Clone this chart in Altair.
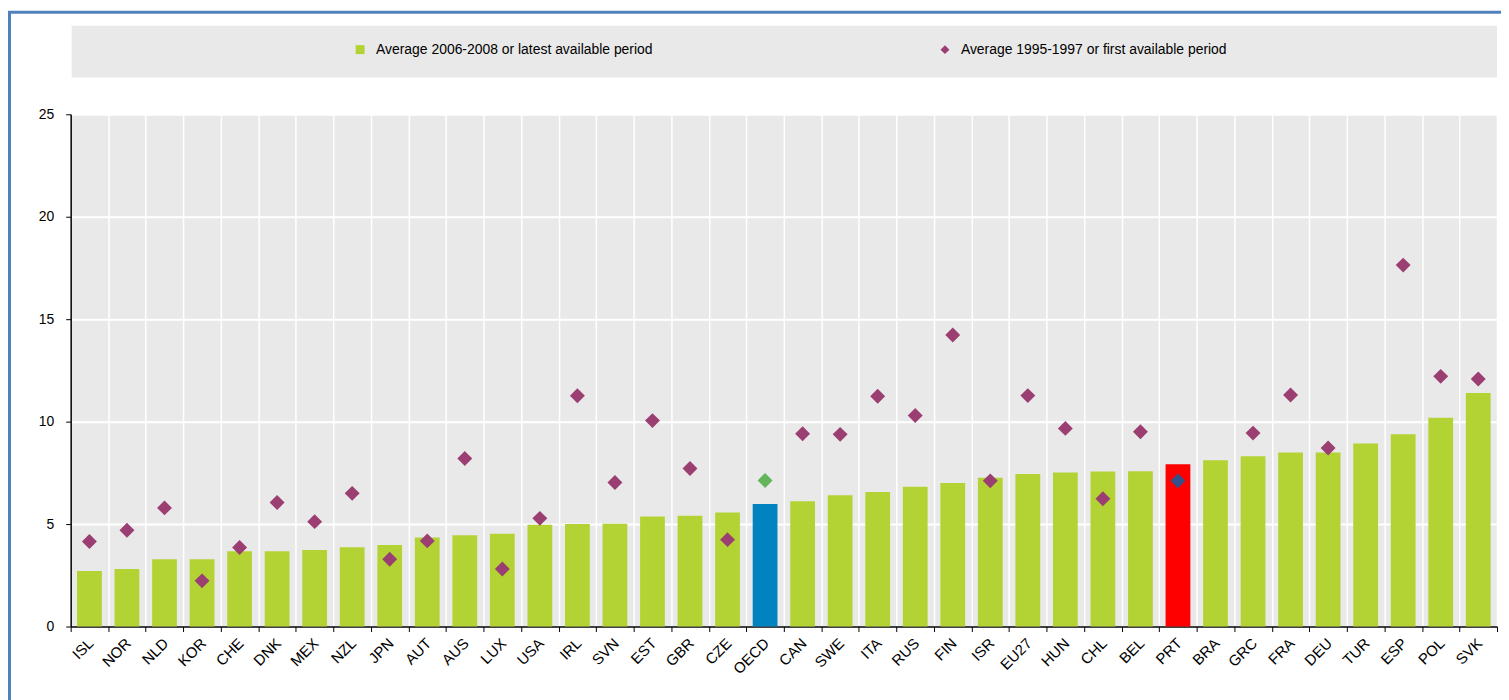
import altair as alt
import pandas as pd

countries = ["ISL", "NOR", "NLD", "KOR", "CHE", "DNK", "MEX", "NZL", "JPN", "AUT",
             "AUS", "LUX", "USA", "IRL", "SVN", "EST", "GBR", "CZE", "OECD", "CAN",
             "SWE", "ITA", "RUS", "FIN", "ISR", "EU27", "HUN", "CHL", "BEL", "PRT",
             "BRA", "GRC", "FRA", "DEU", "TUR", "ESP", "POL", "SVK"]
recent = [2.71, 2.81, 3.28, 3.28, 3.68, 3.68, 3.74, 3.87, 3.98, 4.34,
          4.45, 4.53, 4.97, 5.00, 5.02, 5.37, 5.41, 5.57, 5.98, 6.12,
          6.41, 6.56, 6.82, 7.00, 7.26, 7.44, 7.52, 7.57, 7.58, 7.92,
          8.12, 8.31, 8.49, 8.49, 8.93, 9.38, 10.19, 11.40]
early = [4.15, 4.70, 5.79, 2.23, 3.86, 6.05, 5.12, 6.50, 3.28, 4.18,
         8.20, 2.81, 5.28, 11.26, 7.03, 10.05, 7.71, 4.24, 7.13, 9.41,
         9.38, 11.24, 10.30, 14.23, 7.11, 11.27, 9.67, 6.24, 9.51, 7.11,
         None, 9.44, 11.30, 8.71, None, 17.64, 12.21, 12.08]

L1 = "Average 2006-2008 or latest available period"
L2 = "Average 1995-1997 or first available period"

GREEN = "#b3d334"
BLUE = "#0083bf"
RED = "#ff0000"
PURPLE = "#9b3e72"
DGREEN = "#63b45b"
NAVY = "#35508a"

df = pd.DataFrame({"country": countries, "recent": recent, "early": early})
df["bar_s"] = L1
df["pt_s"] = L2

W, H = 1434, 515

x_enc = alt.X("country:N", sort=countries, title=None,
              scale=alt.Scale(paddingInner=0, paddingOuter=0),
              axis=alt.Axis(labelAngle=-45, tickBand="extent", grid=True,
                            gridColor="white", gridWidth=1.5,
                            domainColor="black", domainWidth=1.5,
                            tickColor="black", tickSize=5, labelPadding=4,
                            labelOffset=-4,
                            labelFontSize=15, labelColor="black"))
y_scale = alt.Scale(domain=[0, 25], nice=False)

color_scale = alt.Scale(domain=[L1, L2], range=[GREEN, PURPLE])
legend = alt.Legend(title=None, orient="none", legendX=284, legendY=-72,
                    direction="horizontal", columnPadding=286, labelOffset=9,
                    labelLimit=500, labelFontSize=14, labelColor="black",
                    symbolSize=80, padding=0, symbolStrokeWidth=0)

bg = alt.Chart(alt.Data(values=[{}])).mark_rect(color="#e9e9e9").encode(
    x=alt.value(1), x2=alt.value(W), y=alt.value(-89), y2=alt.value(-37))

frame = alt.Chart(alt.Data(values=[{}])).mark_rect(
    filled=False, stroke="#4f81bd", strokeWidth=3).encode(
    x=alt.value(-61.5), x2=alt.value(1460), y=alt.value(-102.5), y2=alt.value(620))

bars = alt.Chart(df).mark_bar(width=alt.RelativeBandSize(0.66)).encode(
    x=x_enc,
    y=alt.Y("recent:Q", scale=y_scale, title=None,
            axis=alt.Axis(values=[0, 5, 10, 15, 20, 25], grid=True,
                          gridColor="white", gridWidth=2,
                          domainColor="black", domainWidth=1.5,
                          tickColor="black", tickSize=5, labelPadding=12,
                          labelFontSize=14, labelColor="black")),
    color=alt.Color("bar_s:N", scale=color_scale, legend=legend,
                    condition=[{"test": "datum.country === 'OECD'", "value": BLUE},
                               {"test": "datum.country === 'PRT'", "value": RED}]),
)

points = alt.Chart(df).transform_filter("isValid(datum.early)").mark_point(
    filled=True, size=225, opacity=1).encode(
    x=alt.X("country:N", sort=countries),
    y=alt.Y("early:Q", scale=y_scale),
    color=alt.Color("pt_s:N", scale=color_scale, legend=legend,
                    condition=[{"test": "datum.country === 'OECD'", "value": DGREEN},
                               {"test": "datum.country === 'PRT'", "value": NAVY}]),
    shape=alt.Shape("pt_s:N", scale=alt.Scale(domain=[L1, L2], range=["square", "diamond"]),
                    legend=legend),
)

chart = alt.layer(bg, frame, bars, points).properties(
    width=W, height=H,
    autosize=alt.AutoSizeParams(type="none"),
    padding={"left": 63, "top": 105, "right": 4, "bottom": 72},
).configure(font="Liberation Sans", background="white").configure_view(
    stroke=None, fill="#e9e9e9")

chart.save("out.html", embed_options={"renderer": "svg", "actions": False})
